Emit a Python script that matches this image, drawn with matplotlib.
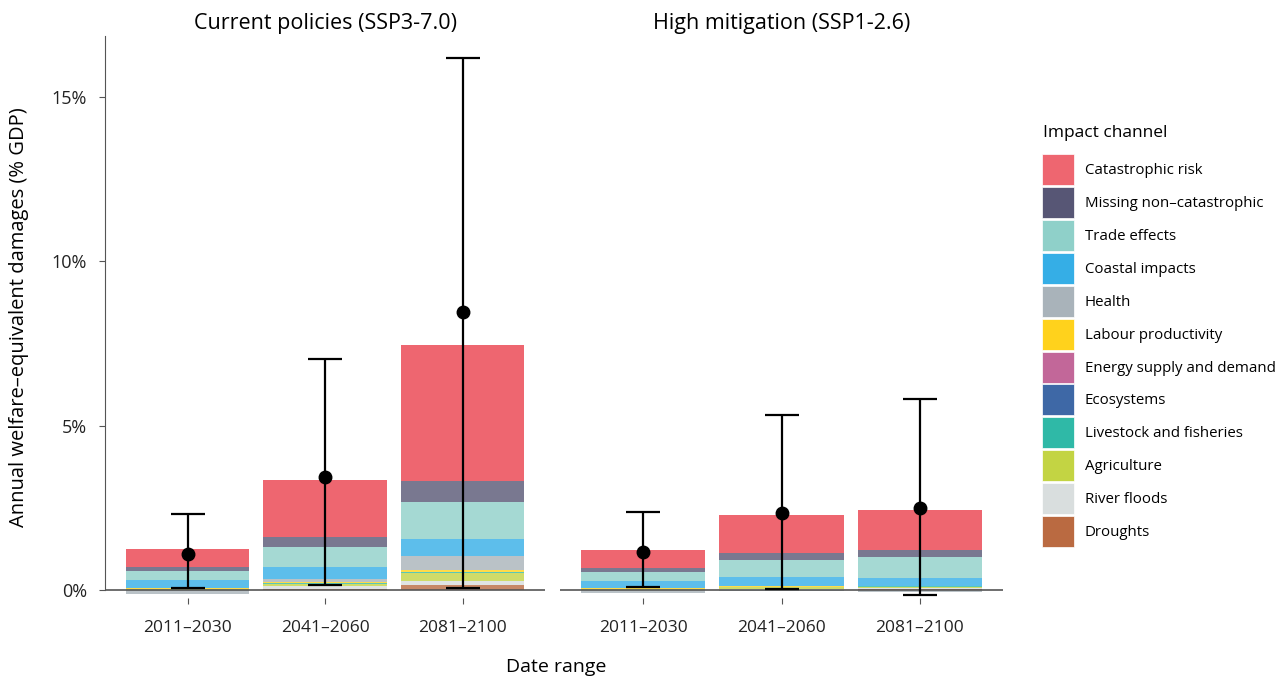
import matplotlib
matplotlib.use("Agg")
import matplotlib.pyplot as plt
from matplotlib.patches import Patch
import numpy as np

plt.rcParams["font.family"] = ["Open Sans", "DejaVu Sans"]

# ---- data ----
periods = ["2011–2030", "2041–2060", "2081–2100"]
scenarios = ["Current policies (SSP3-7.0)", "High mitigation (SSP1-2.6)"]

channels = ["Catastrophic risk", "Missing non–catastrophic", "Trade effects",
            "Coastal impacts", "Health", "Labour productivity",
            "Energy supply and demand", "Ecosystems", "Livestock and fisheries",
            "Agriculture", "River floods", "Droughts"]
colors = ["#EE6670", "#575675", "#8FD0C9", "#35AEE6", "#A9B3BA", "#FFD21C",
          "#C26799", "#3E68A6", "#2FB9A7", "#C3D443", "#D9DEDE", "#BA6A41"]

# first 3 values: SSP3-7.0, last 3: SSP1-2.6 (% GDP)
catastrophic = [0.56, 1.72, 4.13, 0.56, 1.17, 1.19]
missing      = [0.11, 0.31, 0.64, 0.12, 0.21, 0.22]
trade        = [0.27, 0.61, 1.12, 0.27, 0.52, 0.64]
coastal      = [0.26, 0.37, 0.53, 0.23, 0.26, 0.24]
health       = [-0.13, 0.08, 0.41, -0.10, -0.02, -0.05]
labour       = [0.01, 0.04, 0.06, 0.01, 0.02, 0.02]
energy       = [0.00, 0.00, 0.00, 0.00, 0.00, 0.00]
ecosystems   = [0.00, 0.00, 0.00, 0.00, 0.00, 0.00]
livestock    = [0.00, 0.01, 0.02, 0.00, 0.01, 0.01]
agriculture  = [0.03, 0.08, 0.25, 0.03, 0.05, 0.05]
river_floods = [0.00, 0.08, 0.13, 0.00, 0.03, 0.02]
droughts     = [0.01, 0.03, 0.15, 0.01, 0.01, 0.03]

mean_total = [1.10, 3.45, 8.45, 1.16, 2.34, 2.49]
lower_ci   = [0.05, 0.15, 0.06, 0.10, 0.02, -0.14]
upper_ci   = [2.31, 7.02, 16.18, 2.38, 5.32, 5.81]

series = [catastrophic, missing, trade, coastal, health, labour, energy,
          ecosystems, livestock, agriculture, river_floods, droughts]

# ---- figure ----
fig = plt.figure(figsize=(12.85, 6.79), dpi=100)
W, H = 1285, 679
ylo, yhi = -0.25, 16.85
ax_bottom = (H - 598.2) / H
ax_height = (598.2 - 36) / H
ax1 = fig.add_axes([105 / W, ax_bottom, 440 / W, ax_height])
ax2 = fig.add_axes([560 / W, ax_bottom, 443 / W, ax_height])

x = np.arange(1, 4)
for k, ax in enumerate([ax1, ax2]):
    sl = slice(3 * k, 3 * k + 3)
    pos_base = np.zeros(3)
    neg_base = np.zeros(3)
    # stack from the bottom of the legend upward (droughts first)
    for vals, col in zip(series[::-1], colors[::-1]):
        v = np.array(vals[sl])
        pos = np.where(v > 0, v, 0)
        neg = np.where(v < 0, v, 0)
        a = 1.0 if col == "#EE6670" else 0.8
        ax.bar(x, pos, bottom=pos_base, width=0.9, color=col, alpha=a,
               linewidth=0)
        ax.bar(x, neg, bottom=neg_base, width=0.9, color=col, alpha=a,
               linewidth=0)
        pos_base += pos
        neg_base += neg

    m = np.array(mean_total[sl])
    lo = np.array(lower_ci[sl])
    hi = np.array(upper_ci[sl])
    ax.errorbar(x, m, yerr=[m - lo, hi - m], fmt="o", color="black",
                markersize=9, elinewidth=1.6, capsize=12.5, capthick=1.6,
                zorder=5)
    ax.axhline(0, color="#555555", linewidth=1.2, zorder=4)

    ax.set_xlim(0.4, 3.6)
    ax.set_ylim(ylo, yhi)
    ax.set_xticks(x)
    ax.set_xticklabels(periods, fontsize=12.5)
    ax.set_title(scenarios[k], fontsize=15.5, pad=5)
    for s in ["top", "right", "bottom"]:
        ax.spines[s].set_visible(False)
    ax.tick_params(axis="x", length=4, color="#555555", pad=12,
                   labelcolor="#222222")

ax1.set_yticks([0, 5, 10, 15])
ax1.set_yticklabels(["0%", "5%", "10%", "15%"], fontsize=13)
ax1.spines["left"].set_bounds(0, yhi)
ax1.spines["left"].set_color("#555555")
ax1.tick_params(axis="y", length=4, color="#555555", labelcolor="#222222",
                pad=9)
ax1.set_ylabel("Annual welfare–equivalent damages (% GDP)", fontsize=14.5,
               labelpad=16)

ax2.spines["left"].set_visible(False)
ax2.set_yticks([])

fig.text(556 / W, 1 - 667 / H, "Date range", ha="center", va="center",
         fontsize=14)

fig.text(1043 / W, 1 - 133 / H, "Impact channel", ha="left", va="center",
         fontsize=12.5, fontweight="medium")
handles = [Patch(facecolor=c, edgecolor="white", linewidth=0.5) for c in colors]
leg = fig.legend(handles, channels, loc="upper left",
                 bbox_to_anchor=(1036 / W, 1 - 148 / H), frameon=False,
                 fontsize=10.8,
                 handlelength=2.12, handleheight=2.8, labelspacing=0.13,
                 handletextpad=0.72, borderaxespad=0)

fig.savefig("out.png", dpi=100)
